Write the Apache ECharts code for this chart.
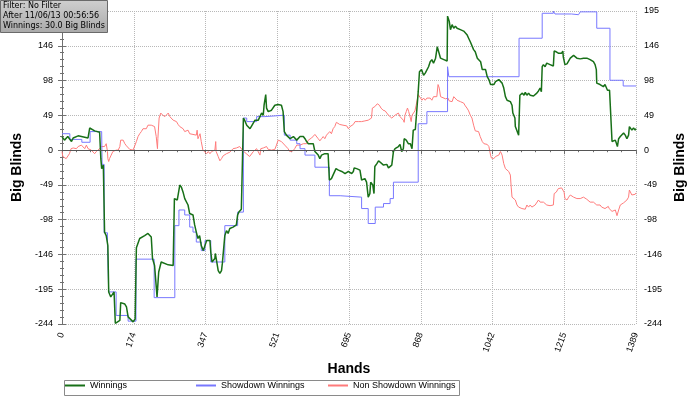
<!DOCTYPE html>
<html>
<head>
<meta charset="utf-8">
<script src="https://cdn.jsdelivr.net/npm/echarts/dist/echarts.min.js"></script>
<style>
  html, body { margin: 0; padding: 0; background: #fff; }
  #chart { width: 700px; height: 398px; }
</style>
</head>
<body>
<div id="chart"></div>
<script>
// hands / big blinds
const winHands = [0,6,14,23,27,39,63,67,79,91,94,96,100,103,107,111,113,118,126,129,140,142,152,156,160,172,177,180,188,200,208,216,219,224,230,234,240,257,269,272,
  279,285,289,293,297,305,309,317,321,325,329,333,337,342,346,350,358,360,363,370,371,374,378,382,386,388,392,394,398,402,406,414,422,425,428,434,438,439,442,447,455,459,467,471,475,479,483,487,489,493,495,499,503,507,515,523,531,535,538,543,552,556,
  560,568,572,576,584,588,592,596,608,612,616,620,624,628,632,636,640,644,647,652,656,663,669,677,685,693,701,705,707,713,721,725,733,737,741,745,747,752,755,757,762,766,770,778,786,790,794,798,802,806,814,818,822,826,828,833,838,
  843,847,849,850,855,859,862,865,870,875,879,883,887,891,895,899,904,908,912,916,920,924,928,932,933,937,940,944,948,952,956,964,972,980,984,988,992,996,1000,1005,1009,1013,1017,1025,1029,1033,1037,1045,1049,1057,1061,1065,1069,1073,1077,1085,1089,1091,1096,1097,1101,1105,1108,1114,1118,
  1121,1125,1129,1133,1137,1141,1149,1153,1157,1160,1162,1165,1169,1173,1177,1181,1185,1189,1191,1196,1201,1205,1209,1212,1213,1215,1217,1222,1226,1230,1234,1238,1242,1246,1250,1254,1258,1262,1266,1270,1274,1278,1282,1286,1290,1293,1294,1302,1306,1310,1314,1318,1320,1325,1328,1331,1335,1339,1343,1344,1347,1351,1355,1359,1363,1367,1371,1373,1377,1379,1383,1387,1389];
const winValues = [19,14,19,12,17,20,17,31,27,25,-12,-26,-21,-115,-120,-134,-199,-206,-199,-243,-239,-214,-216,-220,-234,-241,-237,-137,-124,-120,-117,-122,-152,-162,-206,-171,-157,-161,-162,-68,
  -70,-49,-52,-59,-68,-77,-89,-91,-105,-115,-124,-120,-134,-141,-143,-127,-127,-143,-157,-152,-145,-155,-169,-173,-169,-159,-157,-120,-113,-117,-110,-108,-105,-91,-87,-83,-83,45,42,35,30,34,42,40,42,47,52,49,63,78,59,54,52,56,63,64,63,54,26,21,16,14,
  19,14,12,19,19,16,12,9,9,-2,0,-7,-12,-7,-9,-5,-7,-5,-42,-40,-38,-26,-28,-30,-33,-30,-33,-30,-25,-26,-28,-42,-40,-45,-66,-61,-45,-49,-61,-23,-19,-15,-16,-21,-20,-25,-26,-21,-2,2,5,8,-2,2,16,14,9,
  9,2,0,28,29,30,82,110,113,105,108,110,117,124,127,122,129,145,145,129,127,127,125,125,188,181,169,176,171,174,171,169,167,162,157,152,150,141,138,129,129,124,113,113,103,99,92,92,96,99,99,94,87,75,70,68,63,52,45,33,31,21,77,80,77,
  81,77,80,77,77,76,80,83,87,82,117,120,117,122,121,120,120,118,139,138,136,138,136,139,131,129,120,121,122,129,131,133,131,129,130,128,129,129,130,129,128,127,127,124,120,113,94,92,92,89,92,92,84,84,84,12,11,14,14,5,16,19,21,24,21,16,21,33,34,28,31,28,30];

// showdown winnings moves in steps: hand where a level starts, level
const sdHands = [0,19,48,68,96,97,102,110,113,131,160,179,223,273,283,297,309,317,325,337,346,360,394,425,439,447,471,491,538,552,568,576,588,612,647,673,725,741,758,778,794,802,862,883,933,936,1106,1162,1189,1193,1233,1250,1254,1294,1326,1358,1389];
const sdValues = [23,15,11,26,24,-20,-116,-134,-199,-232,-240,-153,-207,-106,-84,-91,-108,-115,-129,-141,-127,-157,-106,-87,45,40,47,49,21,14,9,2,-7,-24,-64,-66,-82,-103,-80,-75,-68,-45,37,54,117,103,157,192,195,191,190,188,194,171,98,90,90];

const nsdHands = [0,2,6,10,14,18,22,27,31,35,39,43,47,51,55,59,63,67,71,75,79,83,87,91,95,99,103,107,110,111,113,115,119,123,127,131,136,140,142,148,152,156,160,164,168,172,176,180,184,188,192,196,198,204,208,212,216,220,224,228,231,232,235,239,244,249,253,257,261,265,269,273,277,281,
  285,289,293,297,301,305,309,313,317,321,325,327,329,331,334,337,341,345,350,354,358,362,366,370,372,373,378,382,386,390,394,398,402,406,410,414,418,422,426,430,434,438,442,446,450,454,458,463,467,471,475,479,481,487,491,495,499,503,507,511,515,519,523,527,531,535,539,543,547,551,555,559,563,
  568,572,576,580,584,588,592,596,600,604,608,612,616,620,624,628,632,636,640,644,648,652,656,660,664,668,672,676,680,684,689,693,697,701,705,709,713,717,721,725,729,733,737,741,745,749,751,757,763,768,772,777,782,786,790,794,798,802,806,810,814,818,822,826,828,830,833,836,839,
  843,845,847,851,854,857,862,865,871,875,879,883,887,891,895,899,903,907,910,913,916,920,928,932,934,937,940,944,948,952,956,960,964,968,972,976,980,984,988,992,996,1000,1004,1008,1012,1017,1021,1025,1029,1033,1037,1039,1042,1045,1049,1053,1057,1061,1065,1069,1073,1077,1081,1085,1087,1089,1093,1097,1101,1105,1109,1113,1117,1121,
  1125,1129,1133,1137,1141,1145,1149,1153,1157,1161,1165,1169,1173,1177,1181,1185,1189,1191,1196,1201,1205,1209,1212,1215,1217,1222,1226,1230,1234,1238,1242,1246,1250,1254,1258,1262,1266,1270,1274,1278,1282,1286,1290,1294,1298,1302,1306,1310,1314,1318,1322,1324,1328,1331,1335,1339,1343,1347,1351,1355,1359,1363,1367,1371,1373,1376,1379,1383,1387,1389];
const nsdValues = [-2,-9,-7,-12,-11,-5,2,3,5,2,5,6,7,5,2,7,2,1,0,-2,-5,-2,-1,2,5,7,5,9,-2,-12,-16,-12,-7,-2,-2,0,0,5,14,14,9,6,5,1,1,0,2,12,19,23,26,30,31,30,35,34,35,36,33,19,2,16,45,52,49,47,49,52,47,45,42,44,40,36,
  33,35,30,26,27,28,23,21,22,23,21,28,16,19,23,12,0,-2,-5,-2,-5,-2,-3,0,12,-2,-9,-15,-12,-8,-7,-5,-6,-3,-1,2,1,3,2,5,3,-1,-2,-5,-7,-9,-7,-2,0,2,3,-7,2,3,2,5,1,-1,0,1,1,7,14,15,12,11,7,5,2,-2,-1,-1,2,
  7,9,7,5,9,7,9,14,16,17,19,22,23,16,13,16,19,16,21,20,26,23,30,33,39,38,36,36,35,33,34,30,33,35,36,40,38,40,41,40,42,41,40,42,42,45,59,61,65,63,59,56,55,53,49,47,45,47,49,50,52,47,49,42,39,49,54,59,54,
  45,40,49,47,55,63,78,77,70,73,70,73,75,73,70,75,73,75,92,87,75,73,72,70,73,69,70,68,75,73,70,70,68,67,66,62,59,55,49,45,35,27,28,26,19,12,9,9,8,5,-7,-11,-9,-12,-9,-11,-7,-2,-7,-19,-26,-28,-30,-35,-52,-66,-68,-70,-77,-80,-81,-82,-82,-83,
  -77,-80,-77,-80,-79,-77,-76,-70,-73,-75,-73,-72,-77,-77,-78,-77,-77,-61,-59,-54,-56,-53,-56,-59,-68,-70,-66,-63,-64,-66,-67,-68,-69,-68,-67,-66,-67,-69,-70,-73,-75,-73,-75,-77,-79,-77,-80,-81,-82,-81,-79,-82,-84,-86,-87,-84,-92,-84,-77,-75,-74,-72,-70,-66,-56,-58,-63,-61,-62,-60];

const xMax = 1389, xStep = 173.625;
const yMin = -244, yMax = 195.2, yStep = 48.8;
const infoLines = ['Filter: No Filter', 'After 11/06/13 00:56:56', 'Winnings: 30.0 Big Blinds'];

const pairs = (xs, ys) => xs.map((x, i) => [x, ys[i]]);

const chart = echarts.init(document.getElementById('chart'));

const tickFont = { fontFamily: 'Liberation Sans', fontSize: 9, color: '#000' };
const titleFont = { fontFamily: 'Liberation Sans', fontSize: 14, fontWeight: 'bold', color: '#000' };
const axisGray = { color: '#707070', width: 1 };
const round = v => Math.round(v);

const options = {
  animation: false,
  grid: { left: 62, right: 64, top: 11, bottom: 74 },
  xAxis: [
    {
      type: 'value', min: 0, max: xMax, interval: xStep, position: 'bottom',
      axisLine: { show: true, lineStyle: axisGray },
      axisTick: { show: true, length: 4, lineStyle: axisGray },
      minorTick: { show: true, splitNumber: 5, length: 2, lineStyle: axisGray },
      axisLabel: { rotate: 70, margin: 9, formatter: round, showMinLabel: true, showMaxLabel: true, ...tickFont },
      splitLine: { show: true, lineStyle: { type: 'dotted', color: '#b8b8b8' } },
      name: 'Hands', nameLocation: 'middle', nameGap: 38, nameTextStyle: titleFont
    },
    {
      type: 'value', min: 0, max: xMax, interval: xStep, position: 'top',
      axisLine: { show: true, lineStyle: axisGray },
      axisTick: { show: true, inside: true, length: 4, lineStyle: axisGray },
      minorTick: { show: true, splitNumber: 5, length: 2, lineStyle: axisGray },
      axisLabel: { show: false },
      splitLine: { show: false }
    }
  ],
  yAxis: [
    {
      type: 'value', min: yMin, max: yMax, interval: yStep, position: 'left',
      axisLine: { show: true, lineStyle: axisGray },
      axisTick: { show: true, length: 4, lineStyle: axisGray },
      minorTick: { show: true, splitNumber: 5, length: 2, lineStyle: axisGray },
      axisLabel: { margin: 9, formatter: round, showMinLabel: true, showMaxLabel: true, ...tickFont },
      splitLine: { show: true, lineStyle: { type: 'dotted', color: '#b8b8b8' } },
      name: 'Big Blinds', nameLocation: 'middle', nameRotate: 90, nameGap: 35, nameTextStyle: titleFont
    },
    {
      type: 'value', min: yMin, max: yMax, interval: yStep, position: 'right',
      axisLine: { show: true, lineStyle: axisGray },
      axisTick: { show: true, length: 4, lineStyle: axisGray },
      minorTick: { show: true, splitNumber: 5, length: 2, lineStyle: axisGray },
      axisLabel: { margin: 8, formatter: round, showMinLabel: true, showMaxLabel: true, ...tickFont },
      splitLine: { show: false },
      name: 'Big Blinds', nameLocation: 'middle', nameRotate: 90, nameGap: 33, nameTextStyle: titleFont
    }
  ],
  legend: [
    { data: ['Winnings'], left: 65, top: 381 },
    { data: ['Showdown Winnings'], left: 196, top: 381 },
    { data: ['Non Showdown Winnings'], left: 328, top: 381 }
  ].map(l => ({
    ...l, padding: 0, icon: 'rect', itemWidth: 20, itemHeight: 2, itemGap: 4,
    textStyle: { fontFamily: 'Liberation Sans', fontSize: 9, color: '#000' }
  })),
  graphic: [
    {
      type: 'rect', left: 62, top: 378, silent: true,
      shape: { width: 395, height: 15 },
      style: { fill: 'none', stroke: '#8a8a8a', lineWidth: 1 }
    },
    {
      type: 'group', left: 0, top: 0, z: 100,
      children: [
        {
          type: 'rect', z: 100, shape: { x: 0.5, y: 0.5, width: 107, height: 32 },
          style: {
            fill: new echarts.graphic.LinearGradient(0, 0, 0, 1, [
              { offset: 0, color: '#cfcfcf' }, { offset: 1, color: '#a9a9a9' }
            ]),
            stroke: '#6a6a6a', lineWidth: 1
          }
        },
        ...infoLines.map((t, i) => ({
          type: 'text', z: 101, left: 3, top: 2 + i * 10,
          style: { text: t, fill: '#000', font: '8px "DejaVu Sans"' }
        }))
      ]
    }
  ],
  series: [
    {
      name: 'Non Showdown Winnings', type: 'line', data: pairs(nsdHands, nsdValues),
      showSymbol: false, lineStyle: { color: '#ff7b7b', width: 1 }, itemStyle: { color: '#ff7b7b' },
      markLine: {
        silent: true, symbol: 'none', label: { show: false },
        lineStyle: { color: '#555', type: 'solid', width: 1 },
        data: [{ yAxis: 0 }]
      }
    },
    {
      name: 'Showdown Winnings', type: 'line', step: 'end', data: pairs(sdHands, sdValues),
      showSymbol: false, lineStyle: { color: '#7878ff', width: 1 }, itemStyle: { color: '#7878ff' }
    },
    {
      name: 'Winnings', type: 'line', data: pairs(winHands, winValues),
      showSymbol: false, lineStyle: { color: '#187018', width: 1.5 }, itemStyle: { color: '#187018' }
    }
  ]
};

chart.setOption(options);
</script>
</body>
</html>
